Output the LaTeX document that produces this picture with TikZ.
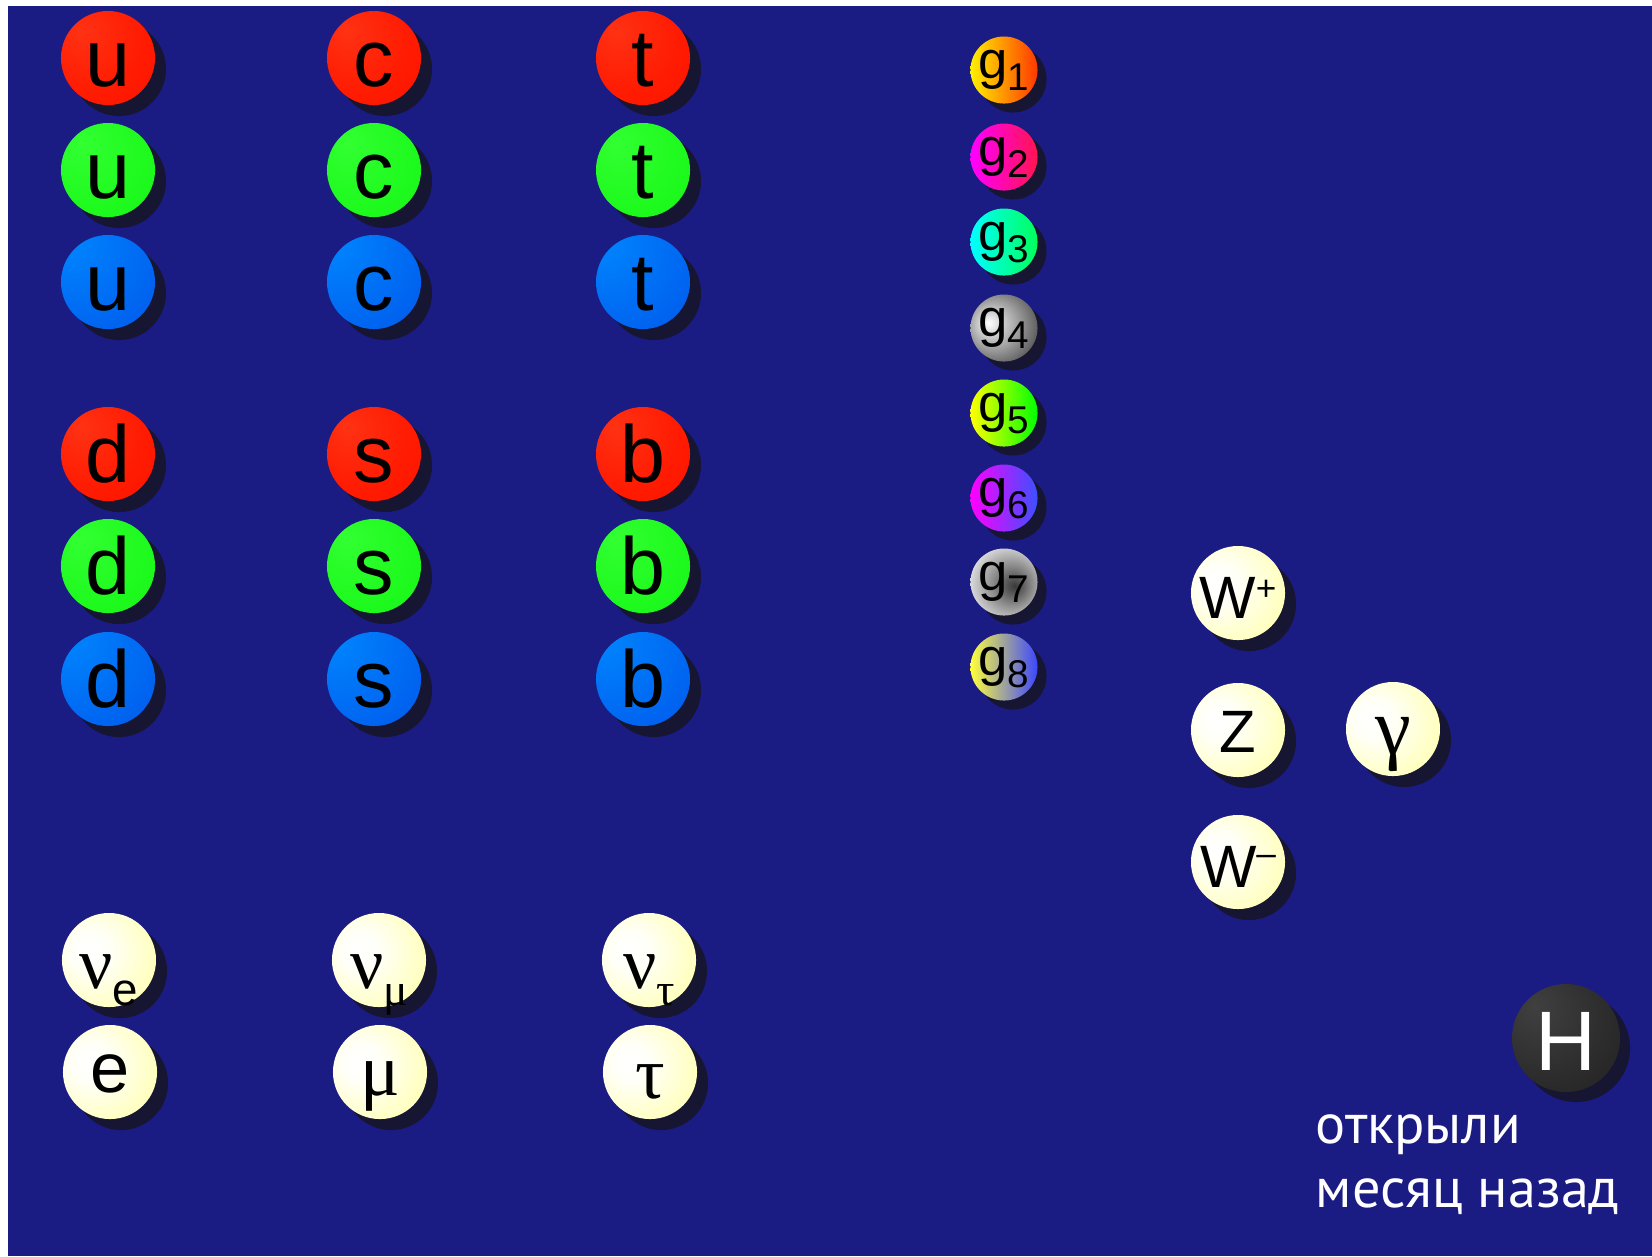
\documentclass[tikz,border=0pt]{standalone}
\usepackage{fontspec}
\setmainfont{Liberation Sans}
\newfontfamily\grk{Liberation Serif}
\newfontfamily\cyr{PT Sans}
\usepackage{tikz}
\usetikzlibrary{shadows}
\usepackage{xcolor}

\definecolor{bgblue}{RGB}{27,27,132}
\definecolor{shadowcol}{RGB}{22,22,50}
\definecolor{redhi}{RGB}{255,50,20}
\definecolor{redmid}{RGB}{255,26,0}
\definecolor{redlo}{RGB}{236,16,0}
\definecolor{greenhi}{RGB}{50,255,50}
\definecolor{greenmid}{RGB}{30,250,30}
\definecolor{greenlo}{RGB}{14,228,14}
\definecolor{bluehi}{RGB}{0,136,255}
\definecolor{bluemid}{RGB}{0,100,240}
\definecolor{bluelo}{RGB}{0,48,200}
\definecolor{paleyel}{RGB}{255,255,172}
\definecolor{paleyello}{RGB}{255,255,150}
\definecolor{darkhi}{RGB}{64,64,64}
\definecolor{darklo}{RGB}{24,24,24}

\pgfdeclareradialshading{redball}{\pgfpoint{-15bp}{15bp}}{color(0bp)=(redhi); color(30bp)=(redmid); color(75bp)=(redlo)}
\pgfdeclareradialshading{greenball}{\pgfpoint{-15bp}{15bp}}{color(0bp)=(greenhi); color(30bp)=(greenmid); color(75bp)=(greenlo)}
\pgfdeclareradialshading{blueball}{\pgfpoint{-25bp}{25bp}}{color(0bp)=(bluehi); color(40bp)=(bluemid); color(90bp)=(bluelo)}
\pgfdeclareradialshading{yelball}{\pgfpoint{-12bp}{6bp}}{color(0bp)=(white); color(10bp)=(white!92!paleyel); color(38bp)=(paleyel); color(70bp)=(paleyello)}
\pgfdeclareradialshading{darkball}{\pgfpoint{-15bp}{15bp}}{color(0bp)=(darkhi); color(40bp)=(darklo!70!darkhi); color(75bp)=(darklo)}
\pgfdeclareradialshading{greyball}{\pgfpoint{-12bp}{4bp}}{color(0bp)=(white); color(12bp)=(black!25); color(30bp)=(black!62); color(55bp)=(black!85)}
\pgfdeclareradialshading{silverball}{\pgfpoint{8bp}{-3bp}}{color(0bp)=(black!78); color(15bp)=(black!45); color(35bp)=(black!3); color(60bp)=(black!18)}

\newcommand{\gsub}[1]{g\raisebox{-3.5pt}{\fontsize{11}{11}\selectfont #1}}
\newcommand{\nusub}[1]{{\grk ν}\raisebox{-5pt}{\fontsize{13}{13}\selectfont #1}}

\begin{document}
\begin{tikzpicture}[x=0.01cm, y=-0.01cm,
    lift/.style={text height=#1, text depth=0pt},
    ball/.style={circle, inner sep=0pt, minimum size=0.94cm,
      drop shadow={shadow xshift=0.11cm, shadow yshift=-0.11cm, fill=shadowcol, opacity=1}},
    quark/.style={ball, lift=0.56cm, font=\fontsize{23}{23}\selectfont},
    qred/.style={quark, shading=redball},
    qgreen/.style={quark, shading=greenball},
    qblue/.style={quark, shading=blueball},
    lepton/.style={ball, shading=yelball, font=\fontsize{21}{21}\selectfont},
    boson/.style={ball, shading=yelball, font=\fontsize{17}{17}\selectfont},
    gluon/.style={circle, inner sep=0pt, minimum size=0.67cm, lift=0.16cm,
      drop shadow={shadow xshift=0.09cm, shadow yshift=-0.09cm, fill=shadowcol, opacity=1},
      font=\fontsize{15}{15}\selectfont}]

    % Fundo
    \useasboundingbox (0,0) rectangle (1652,1256);
    \fill[white] (0,0) rectangle (1652,1256);
    \fill[bgblue] (8,6) rectangle (1652,1256);

    % Quarks u, c, t
    \node[qred] (u1) at (108,58) {u};
    \node[qgreen] (u2) at (108,170) {u};
    \node[qblue] (u3) at (108,282) {u};
    \node[qred] (c1) at (374,58) {c};
    \node[qgreen] (c2) at (374,170) {c};
    \node[qblue] (c3) at (374,282) {c};
    \node[qred] (t1) at (643,58) {t};
    \node[qgreen] (t2) at (643,170) {t};
    \node[qblue] (t3) at (643,282) {t};

    % Quarks d, s, b
    \node[qred] (d1) at (108,454) {d};
    \node[qgreen] (d2) at (108,566) {d};
    \node[qblue] (d3) at (108,679) {d};
    \node[qred] (s1) at (374,454) {s};
    \node[qgreen] (s2) at (374,566) {s};
    \node[qblue] (s3) at (374,679) {s};
    \node[qred] (b1) at (643,454) {b};
    \node[qgreen] (b2) at (643,566) {b};
    \node[qblue] (b3) at (643,679) {b};

    % Glúons
    \node[gluon, left color={rgb,255:red,255;green,240;blue,0}, middle color={rgb,255:red,255;green,190;blue,0}, right color={rgb,255:red,255;green,55;blue,0}] (g1) at (1004,70) {\gsub{1}};
    \node[gluon, left color={rgb,255:red,255;green,0;blue,255}, right color={rgb,255:red,255;green,20;blue,80}] (g2) at (1004,157) {\gsub{2}};
    \node[gluon, left color=cyan, right color={rgb,255:red,0;green,255;blue,90}] (g3) at (1004,242) {\gsub{3}};
    \node[gluon, shading=greyball] (g4) at (1004,328) {\gsub{4}};
    \node[gluon, left color=yellow, middle color={rgb,255:red,200;green,255;blue,0}, right color=green] (g5) at (1004,413) {\gsub{5}};
    \node[gluon, left color={rgb,255:red,255;green,0;blue,255}, right color={rgb,255:red,60;green,80;blue,255}] (g6) at (1004,498) {\gsub{6}};
    \node[gluon, shading=silverball] (g7) at (1004,582) {\gsub{7}};
    \node[gluon, left color={rgb,255:red,255;green,255;blue,60}, middle color=black!35, right color={rgb,255:red,60;green,70;blue,255}] (g8) at (1004,667) {\gsub{8}};

    % Bósons W, Z e fóton
    \node[boson, lift=0.50cm] (wp) at (1238,593) {W\raisebox{5pt}{\fontsize{10}{10}\selectfont +}};
    \node[boson, lift=0.44cm] (z) at (1238,730) {Z};
    \node[boson, lift=0.50cm, font=\fontsize{23}{23}\grk] (gam) at (1393,729) {γ};
    \node[boson, lift=0.50cm] (wm) at (1238,862) {W\raisebox{6pt}{\fontsize{10}{10}\selectfont –}};

    % Léptons
    \node[lepton, lift=0.56cm] (nue) at (109,960) {\nusub{e}};
    \node[lepton, lift=0.56cm] (numu) at (379,960) {\nusub{\grk μ}};
    \node[lepton, lift=0.56cm] (nutau) at (649,960) {\nusub{\grk τ}};
    \node[lepton, lift=0.40cm, font=\fontsize{20}{20}\selectfont] (e) at (110,1072) {e};
    \node[lepton, lift=0.46cm, font=\fontsize{21}{21}\grk] (mu) at (380,1072) {μ};
    \node[lepton, lift=0.52cm, font=\fontsize{21}{21}\grk] (tau) at (650,1072) {τ};

    % Higgs
    \node[circle, inner sep=0pt, minimum size=1.08cm, shading=darkball, text=white,
      lift=0.64cm, font=\fontsize{24}{24}\selectfont,
      drop shadow={shadow xshift=0.1cm, shadow yshift=-0.1cm, fill=shadowcol, opacity=1}] (h) at (1566,1038) {H};
    \node[anchor=base west, text=white, inner sep=0pt, font=\fontsize{16}{16}\cyr] (txt1) at (1315,1143) {открыли};
    \node[anchor=base west, text=white, inner sep=0pt, font=\fontsize{16}{16}\cyr] (txt2) at (1315,1207) {месяц назад};
\end{tikzpicture}
\end{document}
